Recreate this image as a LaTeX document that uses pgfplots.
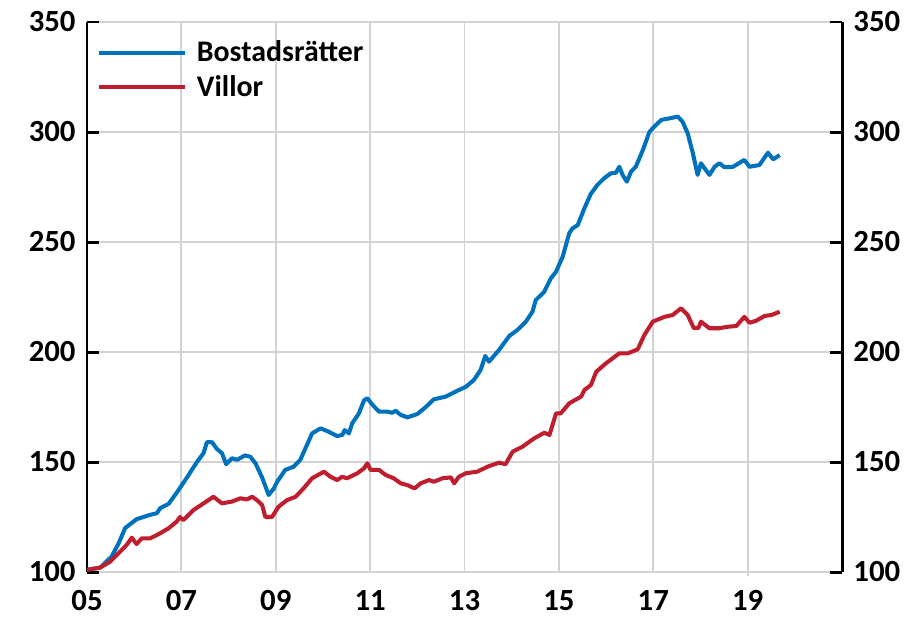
\documentclass[border=0pt]{standalone}
\usepackage{fontspec}
\setmainfont{Carlito}
\usepackage{pgfplots}
\pgfplotsset{compat=1.18}
\definecolor{brblue}{HTML}{0071BC}
\definecolor{villred}{HTML}{BE1E2D}
\definecolor{gridgray}{HTML}{D3D3D3}

\pgfplotsset{
  base/.style={
    scale only axis, width=15.1cm, height=11cm,
    xmin=2005, xmax=2021, ymin=100, ymax=350,
    ytick={100,150,...,350},
    /pgf/number format/assume math mode=true,
    ticklabel style={font=\bfseries\fontsize{17.5}{20}\selectfont},
    tick align=inside, major tick length=0.24cm,
    ytick style={black, line width=1.7pt},
    y axis line style={black, line width=1.7pt, -},
  }
}

\begin{document}
\begin{tikzpicture}
\path[use as bounding box] (-1.74,-1.02) rectangle (16.54,11.44);
\begin{axis}[base,
  axis y line*=left, axis x line*=bottom,
  x axis line style={draw=none},
  xtick={2005,2007,...,2019},
  xticklabels={05,07,09,11,13,15,17,19},
  xtick style={gridgray, line width=1.1pt, shorten <=-0.08cm, shorten >=-0.08cm},
  grid=major, major grid style={gridgray, line width=1.1pt},
  yticklabel style={xshift=-3pt},
  xticklabel style={yshift=-7pt},
  legend style={draw=none, fill=none, at={(axis description cs:0,1)}, anchor=north west,
    xshift=0.2cm, yshift=-0.3cm, row sep=0.08cm, inner sep=0pt,
    font=\bfseries\fontsize{17}{20}\selectfont},
  legend cell align=left,
  legend image code/.code={\draw[#1] (0cm,0cm) -- (1.72cm,0cm); \path (1.84cm,0cm);},
]
\addplot[brblue, line width=2.3pt, line join=round] coordinates {
(2005.00,101)(2005.28,102)(2005.52,107)(2005.67,113)(2005.81,120)(2006.05,124)(2006.34,126)(2006.48,126.7)(2006.55,129)(2006.73,131)(2006.90,136)(2007.12,143)(2007.33,150)(2007.47,154)(2007.54,159)(2007.65,159)(2007.75,156)(2007.86,154)(2007.95,149)(2008.07,151.7)(2008.18,151)(2008.35,153)(2008.46,152.4)(2008.57,149.4)(2008.71,143)(2008.85,135)(2008.96,138)(2009.03,141)(2009.20,146.4)(2009.38,147.9)(2009.52,151)(2009.66,157.7)(2009.77,163)(2009.95,165.3)(2010.12,163.8)(2010.30,161.8)(2010.41,162.3)(2010.46,164.5)(2010.55,163)(2010.62,167.6)(2010.76,172)(2010.87,178)(2010.94,179)(2011.05,176)(2011.19,172.9)(2011.36,172.9)(2011.47,172.4)(2011.54,173.3)(2011.65,171.4)(2011.79,170.3)(2012.00,171.8)(2012.18,175)(2012.35,178.5)(2012.60,179.7)(2012.81,182)(2013.03,184.2)(2013.20,187.3)(2013.34,191.8)(2013.44,198.2)(2013.52,195.6)(2013.73,200.9)(2013.95,207.3)(2014.12,210)(2014.30,213.8)(2014.44,218.3)(2014.51,223.6)(2014.69,227.4)(2014.83,233.5)(2014.94,236.5)(2015.08,243.3)(2015.22,254)(2015.29,256.2)(2015.40,257.7)(2015.54,265.3)(2015.68,272)(2015.82,276)(2015.96,279)(2016.10,281.2)(2016.21,281.5)(2016.28,284.2)(2016.35,280.5)(2016.44,277.4)(2016.53,282)(2016.63,284.2)(2016.78,291.8)(2016.92,300.1)(2017.02,302.4)(2017.17,305.5)(2017.34,306.2)(2017.52,307)(2017.62,304.7)(2017.73,299.4)(2017.84,290.3)(2017.94,280.5)(2018.01,285.8)(2018.19,280.5)(2018.30,284.2)(2018.40,285.8)(2018.51,284)(2018.69,284.2)(2018.93,287.3)(2019.04,284.2)(2019.25,285)(2019.43,290.6)(2019.54,287.6)(2019.68,289.5)
};
\addlegendentry{Bostadsrätter}
\addplot[villred, line width=2.3pt, line join=round] coordinates {
(2005.00,101)(2005.28,102)(2005.49,104.7)(2005.70,109.2)(2005.84,112.3)(2005.95,115.6)(2006.05,112.7)(2006.16,115.3)(2006.34,115.3)(2006.55,117.6)(2006.73,119.9)(2006.90,122.9)(2006.97,125)(2007.04,123.6)(2007.26,128.2)(2007.47,131.2)(2007.68,134.2)(2007.86,131.2)(2008.07,132)(2008.25,133.5)(2008.39,133)(2008.50,134.2)(2008.60,132.7)(2008.71,130.5)(2008.78,125)(2008.92,125)(2009.06,129.7)(2009.24,132.7)(2009.42,134.2)(2009.59,138)(2009.77,142.6)(2010.02,145.6)(2010.16,143.3)(2010.30,141.8)(2010.41,143.3)(2010.51,142.6)(2010.73,144.9)(2010.87,147.1)(2010.94,149.4)(2011.01,146.4)(2011.19,146.4)(2011.33,144.1)(2011.50,142.6)(2011.65,140.3)(2011.79,139.5)(2011.94,138)(2012.07,140.3)(2012.25,141.8)(2012.35,141)(2012.53,142.6)(2012.71,143)(2012.78,140.3)(2012.88,143.3)(2013.03,144.9)(2013.27,145.6)(2013.49,147.9)(2013.73,149.7)(2013.87,149)(2014.02,154.7)(2014.23,157)(2014.48,160.8)(2014.69,163.3)(2014.80,162.3)(2014.94,172.1)(2015.04,172.1)(2015.22,176.7)(2015.47,179.7)(2015.54,182.7)(2015.68,185)(2015.79,191)(2016.00,194.9)(2016.28,199.4)(2016.46,199.4)(2016.67,201.2)(2016.81,207.7)(2016.99,213.8)(2017.24,216)(2017.41,216.8)(2017.59,219.9)(2017.73,216.8)(2017.86,210.8)(2017.96,211)(2018.01,213.8)(2018.19,210.8)(2018.40,210.8)(2018.58,211.5)(2018.76,211.8)(2018.93,216)(2019.04,213.3)(2019.18,214.2)(2019.36,216.4)(2019.50,216.8)(2019.68,218.3)
};
\addlegendentry{Villor}
\end{axis}
\begin{axis}[base,
  axis y line*=right, axis x line=none,
  yticklabel style={xshift=3pt},
]
\addplot[draw=none] coordinates {(2005,100)};
\end{axis}
\end{tikzpicture}
\end{document}
